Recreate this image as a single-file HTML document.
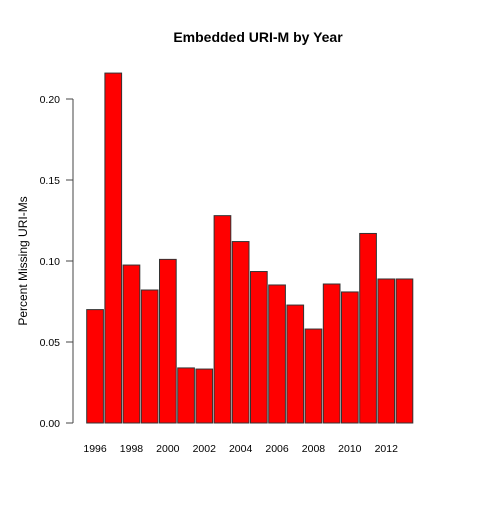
<!DOCTYPE html>
<html><head><meta charset="utf-8"><style>
body{margin:0;background:#fff}
svg{font-family:"Liberation Sans",sans-serif}
</style></head><body>
<svg width="500" height="500" id="c">
<text x="258" y="42" text-anchor="middle" font-size="14" font-weight="bold">Embedded URI-M by Year</text>
<text transform="translate(27,261) rotate(-90)" text-anchor="middle" font-size="12">Percent Missing URI-Ms</text>
</svg>
<script>
const years=[1996,1997,1998,1999,2000,2001,2002,2003,2004,2005,2006,2007,2008,2009,2010,2011,2012,2013];
const values=[0.070,0.216,0.0975,0.0821,0.101,0.034,0.0333,0.128,0.112,0.0935,0.0852,0.0728,0.058,0.0858,0.0809,0.117,0.0889,0.0889];
const yTicks=[0,0.05,0.10,0.15,0.20];
const yTickLabels=["0.00","0.05","0.10","0.15","0.20"];
const xLabelYears=[1996,1998,2000,2002,2004,2006,2008,2010,2012];
const NS="http://www.w3.org/2000/svg";
const svg=document.getElementById('c');
const y=v=>423-v*1620;
const x0=86.7,step=18.2,bw=16.7;
const xi=i=>x0+i*step;
function mk(t,a){const e=document.createElementNS(NS,t);for(const k in a)e.setAttribute(k,a[k]);svg.appendChild(e);return e;}
const ax=mk('line',{x1:73,x2:73,y1:y(0),y2:y(0.2),stroke:'#444'});


yTicks.forEach((t,i)=>{
 const l=mk('line',{x1:66,x2:73,y1:y(t),y2:y(t),stroke:'#444'});
 
 
 const tx=mk('text',{x:60,y:y(t)+4,'text-anchor':'end','font-size':10.5});
 tx.textContent=yTickLabels[i];
 
 
});
values.forEach((v,i)=>{
 const r=mk('rect',{x:xi(i),y:y(v),width:bw,height:y(0)-y(v),fill:'#ff0000',stroke:'#333','stroke-width':1});
 
 
});
xLabelYears.forEach(yr=>{
 const i=years.indexOf(yr);
 const tx=mk('text',{x:xi(i)+bw/2,y:452,'text-anchor':'middle','font-size':10.5});
 tx.textContent=yr;
 
 
});
</script>
</body></html>
